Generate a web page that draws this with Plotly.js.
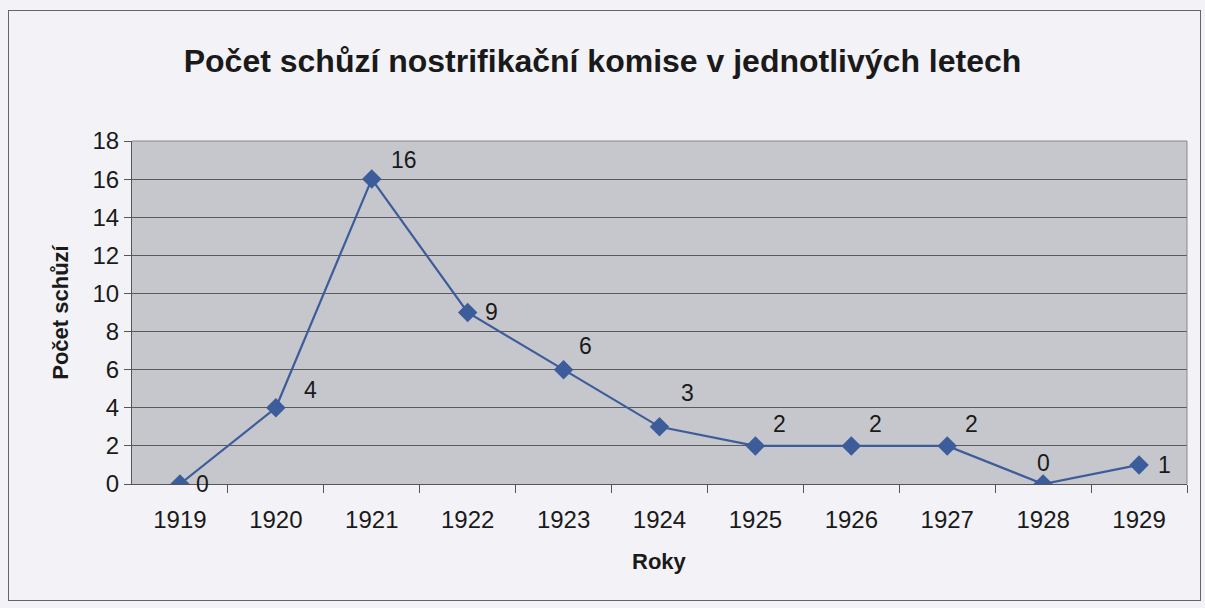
<!DOCTYPE html>
<html><head><meta charset="utf-8">
<script src="https://cdn.plot.ly/plotly-3.0.1.min.js"></script>
<style>
html,body{margin:0;padding:0;background:#f3f3f7;}
#frame{position:absolute;left:8px;top:10px;width:1191px;height:589px;border:1px solid #666;pointer-events:none;z-index:5;}
#chart{width:1205px;height:608px;}
</style></head>
<body>
<div id="frame"></div>
<div id="chart"></div>
<script>
const years = ['1919','1920','1921','1922','1923','1924','1925','1926','1927','1928','1929'];
const meetings = [0,4,16,9,6,3,2,2,2,0,1];
const labelShift = [[23,0],[35,18],[32,19],[24,1],[22,24],[28,34],[24,22],[24,22],[24,22],[0,21],[25,0]];
const FONT = 'Liberation Sans, Arial, sans-serif';

const annotations = years.map((y,i)=>({
  x: i, y: meetings[i], xref:'x', yref:'y', text:String(meetings[i]),
  showarrow:false, xshift:labelShift[i][0], yshift:labelShift[i][1],
  font:{family:FONT, size:23, color:'#1a1a1a'}
}));
annotations.push({xref:'paper',yref:'paper',x:0.5,y:-0.227,yanchor:'middle',text:'<b>Roky</b>',showarrow:false,
  font:{family:FONT,size:22,color:'#1a1a1a'}});
annotations.push({xref:'paper',yref:'paper',x:-0.068,xanchor:'center',y:0.5,text:'<b>Počet schůzí</b>',textangle:-90,showarrow:false,
  font:{family:FONT,size:22,color:'#1a1a1a'}});

Plotly.newPlot('chart',[{
  x: years.map((_,i)=>i), y: meetings, type:'scatter', mode:'lines+markers',
  line:{color:'#3d5c9a',width:2.2},
  marker:{symbol:'diamond',size:15,color:'#3d5c9a'},
  hoverinfo:'none'
},{x:[0],y:[0],xaxis:'x2',yaxis:'y',mode:'markers',marker:{opacity:0},hoverinfo:'none'}],{
  width:1205,height:608,
  margin:{l:132,r:18,t:141,b:124},
  paper_bgcolor:'#f3f3f7', plot_bgcolor:'#c6c7cd',
  title:{text:'<b>Počet schůzí nostrifikační komise v jednotlivých letech</b>',
    font:{family:FONT,size:32,color:'#1a1a1a'},x:0.5,xanchor:'center',y:0.9,yanchor:'middle'},
  showlegend:false,
  xaxis:{range:[-0.5,10.5],tickvals:years.map((_,i)=>i),ticktext:years,
    showgrid:false,zeroline:false,showline:true,linecolor:'#555',linewidth:1,
    ticks:'',tickfont:{family:FONT,size:24,color:'#1a1a1a'},ticklabelstandoff:14,fixedrange:true},
  xaxis2:{overlaying:'x',range:[-0.5,10.5],tickvals:years.map((_,i)=>i+0.5),showticklabels:false,
    ticks:'outside',ticklen:8,tickcolor:'#555',showgrid:false,zeroline:false,side:'bottom',anchor:'y'},
  yaxis:{range:[0,18],dtick:2,showgrid:true,gridcolor:'#5a5a5a',gridwidth:1,zeroline:false,
    showline:true,linecolor:'#555',mirror:false,ticks:'outside',ticklen:7,tickcolor:'#555',
    tickfont:{family:FONT,size:24,color:'#1a1a1a'},fixedrange:true},
  shapes:[{type:'line',xref:'paper',yref:'paper',x0:1,x1:1,y0:0,y1:1,line:{color:'#888',width:1}},
          {type:'line',xref:'paper',yref:'paper',x0:0,x1:1,y0:1,y1:1,line:{color:'#888',width:1}}],
  annotations:annotations
},{displayModeBar:false,staticPlot:true});
</script>
</body></html>
